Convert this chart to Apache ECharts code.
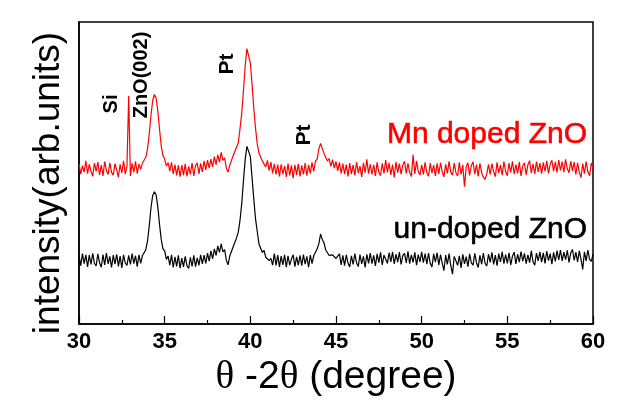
<!DOCTYPE html>
<html>
<head>
<meta charset="utf-8">
<script src="https://cdn.jsdelivr.net/npm/echarts@6/dist/echarts.min.js"></script>
<style>
html,body{margin:0;padding:0;background:#fff;}
#chart{width:635px;height:404px;}
</style>
</head>
<body>
<div id="chart"></div>
<script>
// 2θ grid: 30.0 to 60.0 in 0.1 degree steps
var xStart = 30, xStep = 0.1;
var xTicks = [30, 35, 40, 45, 50, 55, 60];

var mnDoped = [
53.0,49.6,52.4,50.3,54.0,49.8,52.9,50.6,48.9,53.3,
50.5,53.6,49.4,52.6,49.0,53.8,50.8,49.5,53.4,50.2,
49.3,53.1,51.0,48.6,52.9,50.0,54.0,49.6,52.4,75.5,
49.0,53.2,50.3,53.9,49.8,53.0,51.2,53.3,53.2,55.2,
58.0,63.0,69.0,74.0,76.0,75.0,70.5,64.5,59.0,55.8,
54.6,52.3,53.4,50.6,53.5,49.7,52.8,49.2,52.5,48.8,
52.6,49.3,53.0,48.9,52.2,49.5,53.3,49.0,52.4,53.4,
49.7,53.2,50.4,54.0,51.0,54.3,51.6,54.6,52.0,55.4,
52.8,56.0,53.6,56.8,54.2,55.0,51.6,50.3,52.6,53.0,
55.8,55.9,58.6,60.0,64.8,70.0,77.5,85.5,91.2,91.0,
86.5,79.5,71.5,65.0,59.8,56.6,56.0,54.0,54.6,52.0,
54.2,50.8,53.6,49.9,53.0,49.5,52.8,48.9,52.9,49.6,
52.4,48.7,53.1,49.2,52.5,48.3,52.7,49.4,53.0,48.9,
52.5,49.5,53.3,49.1,52.7,49.8,53.5,50.5,53.9,54.6,
58.0,59.8,59.2,56.4,56.3,54.0,54.8,52.2,54.4,51.6,
53.8,50.7,53.5,49.9,53.1,49.6,52.8,48.9,53.3,49.7,
52.7,49.2,53.6,50.0,52.3,48.7,53.4,50.1,54.5,49.8,
52.9,49.5,52.7,49.0,53.5,50.3,49.1,53.2,49.9,54.3,
50.2,53.4,49.4,52.8,48.5,53.7,50.1,53.1,49.6,52.6,
53.9,49.9,53.2,50.3,48.8,56.0,49.7,54.0,50.5,49.3,
52.7,49.5,53.5,50.1,48.9,53.3,50.0,52.6,49.0,53.2,
49.7,53.4,50.4,48.7,52.9,49.9,53.9,50.2,49.3,53.3,
50.1,49.0,53.5,49.5,52.7,45.5,52.1,53.4,49.2,52.5,
53.7,49.6,52.8,48.9,53.2,50.1,48.6,47.9,49.7,52.9,
49.5,53.1,50.4,48.8,53.5,50.0,52.7,49.3,53.8,50.5,
49.1,53.3,50.2,53.9,49.6,52.8,49.9,53.6,49.0,52.4,
53.4,49.4,52.7,54.1,50.0,53.0,49.7,53.8,50.4,53.3,
49.8,53.5,50.5,54.0,49.9,52.9,54.2,50.6,53.7,50.2,
54.3,50.9,53.8,50.3,54.5,51.4,50.1,53.9,50.7,53.6,
49.5,53.4,50.2,48.5,53.1,49.8,53.8,50.4,49.1,53.3,
51.6
];

var unDoped = [
22.7,19.3,23.3,20.0,22.9,18.9,22.8,19.7,23.4,20.1,
19.2,23.2,20.3,18.8,23.0,19.6,23.5,19.9,22.4,18.7,
22.8,19.8,23.1,19.1,22.5,18.6,22.9,20.2,19.4,22.7,
19.7,23.3,20.0,22.6,19.0,22.9,20.1,22.6,23.0,24.6,
27.5,32.5,38.5,42.5,43.8,42.8,38.8,33.0,28.0,24.9,
24.2,21.4,22.5,19.5,22.9,18.7,22.2,19.1,22.7,18.5,
21.8,18.9,22.4,19.3,18.4,22.1,19.1,22.7,19.0,21.9,
19.4,22.9,19.9,22.8,20.1,23.5,20.8,24.2,21.6,24.9,
22.7,25.9,23.7,26.5,23.9,24.6,21.1,19.6,22.5,22.6,
25.6,25.9,28.6,30.5,34.5,40.0,47.5,54.5,58.8,59.3,
55.5,48.5,41.5,35.0,30.8,26.6,26.5,23.7,24.4,22.1,
22.7,21.0,21.7,19.5,23.3,19.4,22.8,18.9,22.5,19.6,
22.9,18.8,22.6,19.5,21.5,22.9,19.0,22.2,19.5,22.7,
19.3,23.0,19.8,22.4,18.8,22.8,20.0,22.6,22.0,24.9,
26.6,29.8,28.0,26.9,24.5,24.8,22.7,23.3,22.9,22.6,
21.7,21.9,23.2,19.6,22.7,19.3,22.9,20.2,18.9,22.6,
19.7,23.3,20.3,19.0,23.0,19.9,22.4,18.7,23.1,20.1,
23.5,20.0,22.7,19.2,23.2,20.3,23.7,19.6,22.8,23.3,
20.1,23.6,20.6,23.9,19.9,23.1,20.5,23.8,19.7,22.7,
23.4,20.2,24.1,20.0,22.9,20.4,23.7,19.5,23.0,20.6,
23.9,20.3,23.3,19.8,23.5,20.1,18.9,23.2,20.5,23.6,
19.6,23.0,20.1,17.7,22.8,19.7,23.3,19.3,16.5,22.4,
22.9,19.4,22.6,18.6,23.1,19.9,22.3,19.0,23.2,20.2,
19.5,23.4,20.3,18.7,22.7,19.8,23.5,20.1,19.2,23.1,
20.4,23.7,19.7,22.8,19.3,23.3,20.6,23.9,20.0,23.0,
20.1,23.6,19.6,22.5,23.8,19.9,23.1,20.5,24.0,20.8,
23.4,20.0,22.9,20.3,24.2,20.6,19.5,23.5,20.9,23.9,
20.5,23.6,20.1,24.1,21.0,23.3,19.8,23.7,20.7,24.3,
21.2,24.5,20.9,23.8,21.3,24.4,20.4,23.5,24.7,21.1,
23.8,20.6,24.2,21.5,18.1,23.9,20.9,24.5,21.4,20.7,
23.1
];

var seriesNames = ['Mn doped ZnO', 'un-doped ZnO'];
var peakLabels = ['Si', 'ZnO(002)', 'Pt', 'Pt'];

function pairs(arr) {
  return arr.map(function (v, i) { return [+(xStart + i * xStep).toFixed(1), v]; });
}

var chart = echarts.init(document.getElementById('chart'), null, {renderer: 'canvas'});
var font = 'Liberation Sans, Arial, sans-serif';

chart.setOption({
  animation: false,
  backgroundColor: '#fff',
  grid: {left: 79, right: 42, top: 22, bottom: 80, show: true, borderColor: '#000', borderWidth: 1.5, backgroundColor: 'transparent'},
  xAxis: {
    type: 'value', min: 30, max: 60, interval: 5,
    axisLine: {show: true, lineStyle: {color: '#000', width: 1.5}},
    axisTick: {show: true, inside: true, length: 8, lineStyle: {color: '#000', width: 1.2}},
    minorTick: {show: true, splitNumber: 2, length: 4, lineStyle: {color: '#000', width: 1.2}},
    splitLine: {show: false},
    axisLabel: {color: '#000', fontFamily: font, fontWeight: 'bold', fontSize: 22, margin: 7},
    name: '{s|θ} -2{s|θ} (degree)',
    nameLocation: 'middle',
    nameGap: 31,
    nameTextStyle: {
      color: '#000', fontFamily: font, fontSize: 39,
      rich: {s: {fontFamily: 'Liberation Serif, Times New Roman, serif', fontSize: 39, color: '#000'}}
    }
  },
  yAxis: {
    type: 'value', min: 0, max: 100,
    axisLine: {show: true, lineStyle: {color: '#000', width: 1.5}},
    axisTick: {show: false},
    axisLabel: {show: false},
    splitLine: {show: false},
    name: 'intensity(arb.units)',
    nameLocation: 'middle',
    nameRotate: 90,
    nameGap: 12,
    nameTextStyle: {color: '#000', fontFamily: font, fontSize: 37, padding: [0, 20, 0, 0]}
  },
  series: [
    {name: seriesNames[0], type: 'line', data: pairs(mnDoped), showSymbol: false, lineStyle: {color: '#ff0000', width: 1.2}, itemStyle: {color: '#ff0000'}},
    {name: seriesNames[1], type: 'line', data: pairs(unDoped), showSymbol: false, lineStyle: {color: '#000', width: 1.2}, itemStyle: {color: '#000'}}
  ],
  graphic: [
    {type: 'text', x: 111, y: 104, rotation: Math.PI / 2, style: {text: peakLabels[0], fontFamily: font, fontWeight: 'bold', fontSize: 20, fill: '#000', align: 'center', verticalAlign: 'middle'}},
    {type: 'text', x: 141, y: 75, rotation: Math.PI / 2, style: {text: peakLabels[1], fontFamily: font, fontWeight: 'bold', fontSize: 20, fill: '#000', align: 'center', verticalAlign: 'middle'}},
    {type: 'text', x: 227, y: 64, rotation: Math.PI / 2, style: {text: peakLabels[2], fontFamily: font, fontWeight: 'bold', fontSize: 21, fill: '#000', align: 'center', verticalAlign: 'middle'}},
    {type: 'text', x: 304, y: 135, rotation: Math.PI / 2, style: {text: peakLabels[3], fontFamily: font, fontWeight: 'bold', fontSize: 21, fill: '#000', align: 'center', verticalAlign: 'middle'}},
    {type: 'text', x: 587, y: 135, style: {text: seriesNames[0], fontFamily: font, fontSize: 30, fill: '#ff0000', stroke: '#ff0000', lineWidth: 0.6, align: 'right', verticalAlign: 'middle'}},
    {type: 'text', x: 587, y: 230, style: {text: seriesNames[1], fontFamily: font, fontSize: 30, fill: '#000', stroke: '#000', lineWidth: 0.6, align: 'right', verticalAlign: 'middle'}}
  ]
});
</script>
</body>
</html>
